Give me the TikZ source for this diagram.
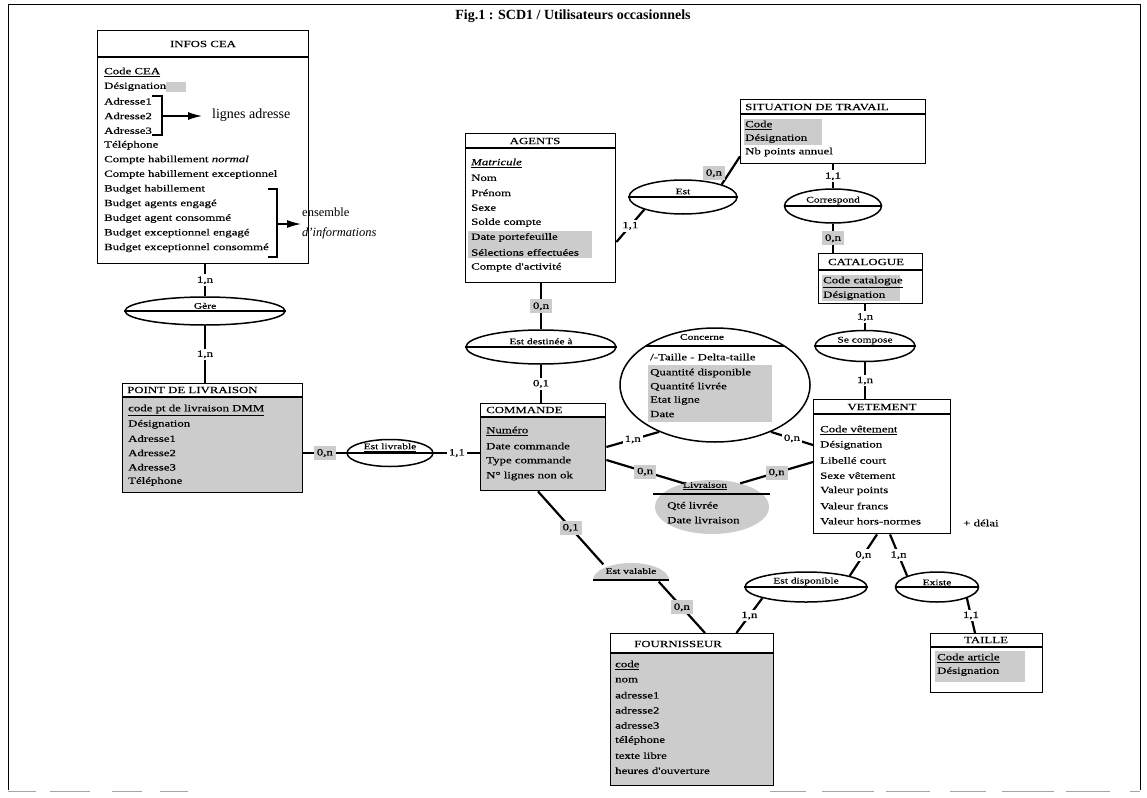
\documentclass[tikz,border=0pt]{standalone}
\usepackage{fontspec}
\setmainfont{Liberation Serif}
\newfontfamily\wideserif[FakeStretch=1.35, FakeBold=0.4]{Liberation Serif}
\usetikzlibrary{shapes.geometric,arrows.meta,calc}
\definecolor{stipple}{gray}{0.8}
\tikzset{
  entity/.style={draw, line width=1.4pt, rectangle, anchor=north west, inner sep=0pt},
  hdrline/.style={line width=1.2pt},
  attr/.style={anchor=west, inner sep=0pt, font=\wideserif\fontsize{9.5}{10}\selectfont},
  head/.style={inner sep=0pt, font=\wideserif\fontsize{9.5}{10}\selectfont},
  rel/.style={draw, line width=1.5pt, ellipse, inner sep=0pt},
  relname/.style={inner sep=0pt, font=\wideserif\fontsize{8.5}{10}\selectfont},
  link/.style={line width=2.2pt},
  card/.style={fill=white, inner sep=2pt, font=\wideserif\fontsize{9.5}{10}\selectfont},
  cardshade/.style={card, fill=stipple, inner sep=3pt},
  pointer/.style={line width=1.3pt, -{Latex[length=14pt,width=8pt]}},
  edge dash/.style={gray!70, line width=1pt},
}
\begin{document}
\begin{tikzpicture}[x=1pt, y=-1pt]
\useasboundingbox (0,0) rectangle (1147,797);

% outer frame; the bottom edge only survives in broken pieces
\draw[line width=1pt] (8,790) -- (8,5) -- (1140,5) -- (1140,790);
\draw[edge dash, dash pattern=on 28pt off 14pt on 40pt off 22pt on 30pt off 18pt] (8,791) -- (190,791);
\draw[edge dash, dash pattern=on 36pt off 16pt on 52pt off 12pt on 44pt off 20pt] (770,791) -- (1140,791);

% title
\node[font=\bfseries\fontsize{14}{16}\selectfont] (title) at (573,16) {Fig.1 : SCD1 / Utilisateurs occasionnels};

% ---------------- INFOS CEA
\node[entity, minimum width=211pt, minimum height=233pt] (infos) at (97,30) {};
\draw[hdrline] ($(infos.north west)+(0,27)$) -- ($(infos.north east)+(0,27)$);
\node[head] at (203,44) {INFOS CEA};
\fill[stipple] (166,82) rectangle (186,92);
\foreach \t [count=\i from 0] in {{\underline{Code CEA}}, Désignation, Adresse1, Adresse2, Adresse3, Téléphone,
  {Compte habillement \textit{normal}}, Compte habillement exceptionnel, Budget habillement,
  Budget agents engagé, Budget agent consommé, Budget exceptionnel engagé, Budget exceptionnel consommé}
  \node[attr] at (104,72+14.65*\i) {\t};

% address lines bracket
\draw[line width=1.3pt] (152,96) -- (162,96) -- (162,135) -- (152,135);
\coordinate (addrbr) at (162,116);
\node[anchor=west, inner sep=0pt, font=\fontsize{14}{16}\selectfont] (lignes) at (212,115) {lignes adresse};
\draw[pointer] (addrbr) -- ([xshift=-10pt]lignes.west |- addrbr);

% budget bracket
\draw[line width=1.3pt] (268,189) -- (277,189) -- (277,257) -- (268,257);
\coordinate (budbr) at (277,224);
\node[anchor=west, inner sep=0pt, font=\fontsize{12.5}{14}\selectfont] (ens) at (302,212) {ensemble};
\node[anchor=west, inner sep=0pt, font=\itshape\fontsize{12.5}{14}\selectfont] (dinf) at (302,233) {d'informations};
\draw[pointer] (budbr) -- ([xshift=-1pt]ens.west |- budbr);

% ---------------- Gère
\node[rel, minimum width=160pt, minimum height=28pt] (gere) at (205,311) {};
\draw[hdrline] (gere.west) -- (gere.east);
\node[relname, above=2pt] at (gere.center) {Gère};

% ---------------- POINT DE LIVRAISON
\fill[stipple] (122,397) rectangle (302,492);
\node[entity, minimum width=180pt, minimum height=109pt] (pdl) at (122,383) {};
\draw[hdrline] ($(pdl.north west)+(0,14)$) -- ($(pdl.north east)+(0,14)$);
\node[head, anchor=west] at (127,390) {POINT DE LIVRAISON};
\foreach \t [count=\i from 0] in {{\underline{code pt de livraison DMM}}, Désignation, Adresse1, Adresse2, Adresse3, Téléphone}
  \node[attr] at (128,410+14.3*\i) {\t};

\draw[link] (gere.north |- infos.south) -- node[card] {1,n} (gere.north);
\draw[link] (gere.south) -- node[card] {1,n} (gere.south |- pdl.north);

% ---------------- Est livrable
\node[rel, minimum width=86pt, minimum height=27pt] (livrable) at (390,453) {};
\draw[hdrline] (livrable.west) -- (livrable.east);
\node[relname, above=1.5pt] at (livrable.center) {\underline{Est livrable}};

% ---------------- COMMANDE
\fill[stipple] (480,417) rectangle (605,490);
\node[entity, minimum width=125pt, minimum height=87pt] (commande) at (480,403) {};
\draw[hdrline] ($(commande.north west)+(0,14)$) -- ($(commande.north east)+(0,14)$);
\node[head, anchor=west] at (486,410) {COMMANDE};
\foreach \t [count=\i from 0] in {{\underline{Numéro}}, Date commande, Type commande, N° lignes non ok}
  \node[attr] at (486,431+15*\i) {\t};

\draw[link] (pdl.east |- livrable) -- node[cardshade] {0,n} (livrable.west);
\draw[link] (livrable.east) -- node[card] {1,1} (commande.west |- livrable);

% ---------------- AGENTS
\node[entity, minimum width=150pt, minimum height=149pt] (agents) at (465,133) {};
\draw[hdrline] ($(agents.north west)+(0,15)$) -- ($(agents.north east)+(0,15)$);
\node[head] at (535,141) {AGENTS};
\fill[stipple] (468,231) rectangle (592,258);
\foreach \t [count=\i from 0] in {{\underline{\textit{Matricule}}}, Nom, Prénom, Sexe, Solde compte,
  Date portefeuille, Sélections effectuées, Compte d'activité}
  \node[attr] at (471,163+14.9*\i) {\t};

% ---------------- Est destinée à
\node[rel, minimum width=150pt, minimum height=34pt] (dest) at (541,347) {};
\draw[hdrline] (dest.west) -- (dest.east);
\node[relname, above=2.5pt] at (dest.center) {Est destinée à};
\draw[link] (dest.north |- agents.south) -- node[cardshade] {0,n} (dest.north);
\draw[link] (dest.south) -- node[card] {0,1} (dest.south |- commande.north);

% ---------------- SITUATION DE TRAVAIL
\node[entity, minimum width=185pt, minimum height=64pt] (sit) at (740,99) {};
\draw[hdrline] ($(sit.north west)+(0,15)$) -- ($(sit.north east)+(0,15)$);
\node[head, anchor=west] at (745,107) {SITUATION DE TRAVAIL};
\fill[stipple] (744,119) rectangle (822,145);
\foreach \t [count=\i from 0] in {{\underline{Code}}, Désignation, Nb points annuel}
  \node[attr] at (745,125+13.5*\i) {\t};

% ---------------- Est
\node[rel, minimum width=108pt, minimum height=34pt] (est) at (683,197) {};
\draw[hdrline] (est.west) -- (est.east);
\node[relname, above=2.5pt] at (est.center) {Est};
\draw[link] ($(agents.north east)+(0,109)$) -- node[card] {1,1} (est.south west);
\draw[link] (est.north east) -- node[cardshade, left=3pt, pos=0.4] {0,n} ($(sit.south west)+(0,-8)$);

% ---------------- Correspond
\node[rel, minimum width=97pt, minimum height=34pt] (corr) at (833,206) {};
\draw[hdrline] (corr.west) -- (corr.east);
\node[relname, above=1.5pt] at (corr.center) {Correspond};

% ---------------- CATALOGUE
\node[entity, minimum width=104pt, minimum height=50pt] (cat) at (818,253) {};
\draw[hdrline] ($(cat.north west)+(0,17)$) -- ($(cat.north east)+(0,17)$);
\node[head] at (866,262) {CATALOGUE};
\fill[stipple] (822,275) rectangle (900,301);
\foreach \t [count=\i from 0] in {{\underline{Code catalogue}}, Désignation}
  \node[attr] at (823,282+13.5*\i) {\t};

\draw[link] (corr.north |- sit.south) -- node[card] {1,1} (corr.north);
\draw[link] (corr.south) -- node[cardshade] {0,n} (corr.south |- cat.north);

% ---------------- Se compose
\node[rel, minimum width=100pt, minimum height=31pt] (comp) at (865,346) {};
\draw[hdrline] (comp.west) -- (comp.east);
\node[relname, above=1.5pt] at (comp.center) {Se compose};

% ---------------- VETEMENT
\node[entity, minimum width=137pt, minimum height=134pt] (vet) at (813,399) {};
\draw[hdrline] ($(vet.north west)+(0,15)$) -- ($(vet.north east)+(0,15)$);
\node[head] at (882,407) {VETEMENT};
\foreach \t [count=\i from 0] in {{\underline{Code vêtement}}, Désignation, Libellé court, Sexe vêtement,
  Valeur points, Valeur francs, Valeur hors-normes}
  \node[attr] at (820,430+15.2*\i) {\t};
\node[attr] (delai) at (963,523) {+ délai};

\draw[link] (comp.north |- cat.south) -- node[card] {1,n} (comp.north);
\draw[link] (comp.south) -- node[card] {1,n} (comp.south |- vet.north);

% ---------------- Concerne
\node[rel, minimum width=190pt, minimum height=114pt] (conc) at (715,385) {};
\begin{scope}
  \clip (715,385) ellipse [x radius=95pt, y radius=57pt];
  \fill[stipple] (648,365) rectangle (772,422);
  \draw[hdrline] (600,346) -- (830,346);
\end{scope}
\node[relname] at (702,337) {Concerne};
\node[attr] at (650,357) {/-Taille - Delta-taille};
\foreach \t [count=\i from 0] in {Quantité disponible, Quantité livrée, Etat ligne, Date}
  \node[attr] at (650,373+13.7*\i) {\t};

\draw[link] ($(commande.north east)+(0,44)$) -- node[card] {1,n} (conc.220);
\draw[link] (conc.-40) -- node[card] {0,n} ($(vet.north west)+(0,46)$);

% ---------------- Livraison
\node[ellipse, fill=stipple, inner sep=0pt, minimum width=114pt, minimum height=54pt] (liv) at (712,507) {};
\draw[line width=1.8pt] (653,494) -- (770,494);
\node[relname] at (705,486) {\underline{Livraison}};
\node[attr] at (667,506) {Qté livrée};
\node[attr] at (667,520) {Date livraison};

\draw[link] ($(commande.north east)+(0,57)$) -- node[cardshade] {0,n} (liv.140);
\draw[link] (liv.40) -- node[cardshade] {0,n} ($(vet.north west)+(0,63)$);

% ---------------- Est valable
\begin{scope}
  \clip (588,555) rectangle (674,580);
  \fill[stipple] (631,580) ellipse [x radius=38pt, y radius=17pt];
\end{scope}
\node[inner sep=0pt, ellipse, minimum width=78pt, minimum height=24pt] (valable) at (631,573) {};
\draw[line width=1.8pt] (593,580) -- (669,580);
\node[relname] at (631,571) {Est valable};

% ---------------- FOURNISSEUR
\fill[stipple] (610,653) rectangle (773,785);
\node[entity, minimum width=163pt, minimum height=152pt] (four) at (610,633) {};
\draw[hdrline] ($(four.north west)+(0,20)$) -- ($(four.north east)+(0,20)$);
\node[head] at (678,644) {FOURNISSEUR};
\foreach \t [count=\i from 0] in {{\underline{code}}, nom, adresse1, adresse2, adresse3, téléphone, texte libre, heures d'ouverture}
  \node[attr] at (615,665+15.1*\i) {\t};

\draw[link] ($(commande.south west)+(58,0)$) -- node[cardshade] {0,1} (valable.north west);
\draw[link] (valable.south east) -- node[cardshade] {0,n} ($(four.north west)+(95,0)$);

% ---------------- Est disponible / Existe
\node[rel, minimum width=122pt, minimum height=30pt] (dispo) at (806,587) {};
\draw[hdrline] (dispo.west) -- (dispo.east);
\node[relname, above=1.5pt] at (dispo.center) {Est disponible};

\node[rel, minimum width=83pt, minimum height=30pt] (existe) at (937,587) {};
\draw[hdrline] (existe.west) -- (existe.east);
\node[relname, above=1.5pt] at (existe.center) {Existe};

% ---------------- TAILLE
\fill[stipple] (935,651) rectangle (1025,682);
\node[entity, minimum width=112pt, minimum height=59pt] (taille) at (930,633) {};
\draw[hdrline] ($(taille.north west)+(0,14)$) -- ($(taille.north east)+(0,14)$);
\node[head] at (986,640) {TAILLE};
\foreach \t [count=\i from 0] in {{\underline{Code article}}, Désignation}
  \node[attr] at (937,658+13.5*\i) {\t};

\draw[link] ($(vet.south west)+(64,0)$) -- node[card] {0,n} (dispo.north east);
\draw[link] ($(vet.south west)+(77,0)$) -- node[card] {1,n} (existe.north west);
\draw[link] (dispo.south west) -- node[card] {1,n} ($(four.north east)+(-38,0)$);
\draw[link] (existe.south east) -- node[card] {1,1} ($(taille.north west)+(45,0)$);

\end{tikzpicture}
\end{document}
